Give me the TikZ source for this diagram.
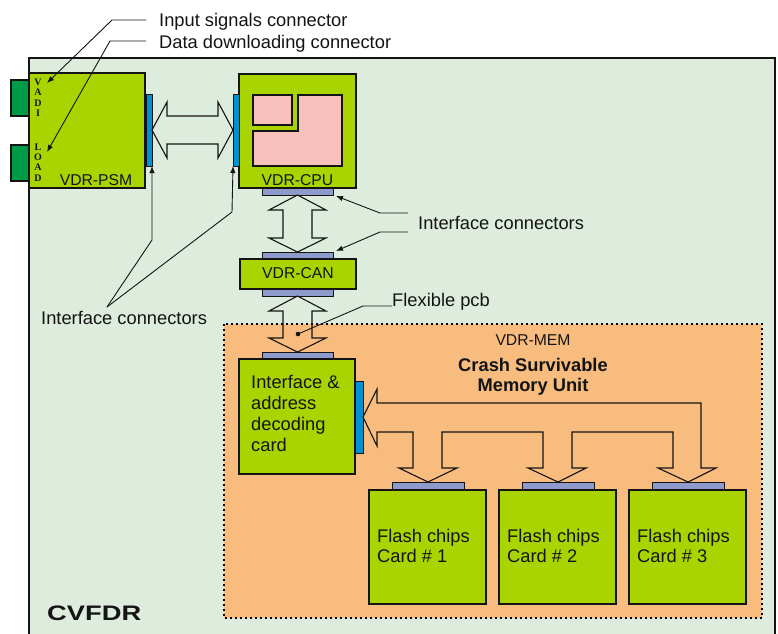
\documentclass[tikz,border=0pt]{standalone}
\usepackage{fontspec}
\setmainfont{Liberation Sans}
\newfontfamily\pinfont{Liberation Serif}
\usetikzlibrary{arrows.meta,calc}

\definecolor{panelgreen}{RGB}{222,236,222}
\definecolor{cardlime}{RGB}{170,212,0}
\definecolor{plugdark}{RGB}{0,155,70}
\definecolor{portblue}{RGB}{0,145,210}
\definecolor{portlav}{RGB}{143,154,204}
\definecolor{chippink}{RGB}{247,192,187}
\definecolor{memorange}{RGB}{247,188,126}
\definecolor{ink}{RGB}{20,20,20}

\tikzset{
  card/.style={draw=ink, line width=2pt, fill=cardlime, anchor=north west,
    inner sep=0pt, outer sep=0pt},
  plug/.style={draw=ink, line width=1.2pt, fill=plugdark, anchor=north west,
    inner sep=0pt, outer sep=0pt},
  sideport/.style={draw=ink, line width=1pt, fill=portblue, anchor=north west,
    inner sep=0pt, outer sep=0pt},
  edgeport/.style={draw=ink, line width=1pt, fill=portlav, anchor=north west,
    inner sep=0pt, outer sep=0pt},
  chiparea/.style={draw=ink, line width=1.2pt, fill=chippink},
  bigarrow/.style={draw=ink, line width=1.1pt, line join=miter},
  leader/.style={draw=ink, line width=0.9pt},
  pointer/.style={leader, -{Latex[length=7pt,width=5.5pt]}},
  lbl/.style={font=\fontsize{18.3}{21}\selectfont, text=ink, inner sep=0pt, anchor=base west},
  boardname/.style={font=\fontsize{15.7}{18}\selectfont, text=ink, inner sep=0pt, anchor=base},
  pinletter/.style={font=\pinfont\bfseries\fontsize{10}{10}\selectfont, text=ink, inner sep=0pt},
}

% double-headed block arrow between two points on a vertical line
\newcommand\vbiarrow[2]{%
  \draw[bigarrow] let \p1=(#1), \p2=(#2) in
    (\p1) -- (\x1+28.5pt,\y1-15pt) -- (\x1+14.5pt,\y1-15pt) -- (\x1+14.5pt,\y2+14pt)
    -- (\x1+28.5pt,\y2+14pt) -- (\p2) -- (\x1-28.5pt,\y2+14pt) -- (\x1-14.5pt,\y2+14pt)
    -- (\x1-14.5pt,\y1-15pt) -- (\x1-28.5pt,\y1-15pt) -- cycle;}
% double-headed block arrow between two points on a horizontal line
\newcommand\hbiarrow[2]{%
  \draw[bigarrow] let \p1=(#1), \p2=(#2) in
    (\p1) -- (\x1+15pt,\y1+28pt) -- (\x1+15pt,\y1+14pt) -- (\x2-15pt,\y1+14pt)
    -- (\x2-15pt,\y1+28pt) -- (\p2) -- (\x2-15pt,\y1-28pt) -- (\x2-15pt,\y1-14pt)
    -- (\x1+15pt,\y1-14pt) -- (\x1+15pt,\y1-28pt) -- cycle;}

\begin{document}
\begin{tikzpicture}[x=1pt, y=-1pt]
  \useasboundingbox (0,0) rectangle (778,633);
  \fill[white] (0,0) rectangle (778,633);
  \clip (0,0) rectangle (778,633);

  % recorder enclosure
  \draw[line width=2.5pt, draw=ink, fill=panelgreen] (29,58) rectangle (775,660);
  \node[font=\bfseries\fontsize{21}{24}\selectfont, text=ink, inner sep=0pt, anchor=base west]
    (cvfdr) at (47,620) {\scalebox{1.3}[1]{CVFDR}};

  % memory unit region
  \draw[line width=1.8pt, dash pattern=on 1.8pt off 3.2pt, fill=memorange] (224,324) rectangle (762,618);

  % external plugs and the power supply board
  \node[plug, minimum width=18pt, minimum height=36pt] (plugA) at (11,80) {};
  \node[plug, minimum width=18pt, minimum height=36pt] (plugB) at (11,145) {};
  \node[card, minimum width=116pt, minimum height=115pt] (psm) at (29,73) {};
  \node[boardname] (psmname) at (96,185) {VDR-PSM};
  \foreach \ch/\yy in {V/82,A/92,D/103,I/113} \node[pinletter] (adi\yy) at (38,\yy) {\ch};
  \foreach \ch/\yy in {L/147,O/157,A/167,D/178} \node[pinletter] (load\yy) at (38,\yy) {\ch};
  \node[sideport, minimum width=6pt, minimum height=72pt] (psmport) at (146,94) {};

  % processor board
  \node[card, minimum width=117pt, minimum height=114pt] (cpu) at (239,74) {};
  \node[sideport, minimum width=6pt, minimum height=72pt] (cpuport) at (233,94) {};
  \draw[chiparea] (253,95) rectangle (292,125);
  \draw[chiparea] (253,131) -- (298,131) -- (298,95) -- (342,95) -- (342,166) -- (253,166) -- cycle;
  \node[boardname] (cpuname) at (297.5,185) {VDR-CPU};
  \node[edgeport, minimum width=71pt, minimum height=7pt] (cpubot) at (262,188) {};

  % CAN board
  \node[edgeport, minimum width=71pt, minimum height=7pt] (cantop) at (262,252) {};
  \node[card, minimum width=116pt, minimum height=30pt] (can) at (240,259) {};
  \node[boardname] (canname) at (298,278) {VDR-CAN};
  \node[edgeport, minimum width=71pt, minimum height=7pt] (canbot) at (262,289) {};

  % interface card of the memory unit
  \node[edgeport, minimum width=71pt, minimum height=7pt] (iftop) at (262,352) {};
  \node[card, minimum width=116pt, minimum height=115pt] (ifc) at (239,359) {};
  \node[sideport, minimum width=8pt, minimum height=72pt] (ifport) at (355,381) {};
  \node[lbl] (ifl1) at (251,388) {Interface \&};
  \node[lbl] (ifl2) at (251,409) {address};
  \node[lbl] (ifl3) at (251,430) {decoding};
  \node[lbl] (ifl4) at (251,451) {card};

  % flash chip cards
  \foreach \i/\xx in {1/369,2/499,3/629} {
    \node[edgeport, minimum width=72pt, minimum height=8pt] (fctop\i) at (\xx+23,482) {};
    \node[card, minimum width=117pt, minimum height=114pt] (fc\i) at (\xx,490) {};
    \node[lbl] (fcA\i) at (\xx+8,542) {Flash chips};
    \node[lbl] (fcB\i) at (\xx+8,562) {Card \# \i};
  }

  % memory unit captions
  \node[boardname] (memname) at (533,345) {VDR-MEM};
  \node[font=\bfseries\fontsize{18.3}{21}\selectfont, text=ink, inner sep=0pt, anchor=base]
    (csm1) at (533,371) {Crash Survivable};
  \node[font=\bfseries\fontsize{18.3}{21}\selectfont, text=ink, inner sep=0pt, anchor=base]
    (csm2) at (533,391.5) {Memory Unit};

  % board-to-board block arrows
  \hbiarrow{psmport.east}{cpuport.west}
  \vbiarrow{cpubot.south}{cantop.north}
  \vbiarrow{canbot.south}{iftop.north}

  % data bus between the interface card and the flash cards
  \draw[bigarrow] (ifport.east) -- (377,389) -- (377,403) -- (701,403) -- (701,468)
    -- (716,468) -- (fctop3.north) -- (658,468) -- (673,468) -- (673,432)
    -- (572,432) -- (572,468) -- (586,468) -- (fctop2.north) -- (528,468)
    -- (543,468) -- (543,432) -- (442,432) -- (442,468) -- (457,468)
    -- (fctop1.north) -- (399,468) -- (413,468) -- (413,432) -- (377,432)
    -- (377,446) -- cycle;

  % callouts
  \node[lbl] (insig) at (159,26) {Input signals connector};
  \node[lbl] (dload) at (159,48) {Data downloading connector};
  \coordinate (insigEnd) at (146,20);
  \coordinate (dloadEnd) at (146,41);
  \coordinate (adiPin) at (47,83);
  \coordinate (loadPin) at (47,152);
  \draw[pointer] (insigEnd) -- (112,20) -- (adiPin);
  \draw[pointer] (dloadEnd) -- (110,41) -- (loadPin);

  \node[lbl] (ifconR) at (418,229) {Interface connectors};
  \coordinate (ifconRa) at (408,213);
  \coordinate (ifconRb) at (408,232);
  \draw[pointer] (ifconRa) -- (380,213) -- ($(cpubot.south east)+(3,1)$);
  \draw[pointer] (ifconRb) -- (380,232) -- ($(cantop.north east)+(3,-1)$);

  \node[lbl] (ifconL) at (41,324) {Interface connectors};
  \coordinate (ifconLtip) at (107,307);
  \draw[pointer] (ifconLtip) -- (152,240) -- (psmport.south east);
  \draw[pointer] (ifconLtip) -- (232,212) -- (cpuport.south west);

  \node[lbl] (flex) at (392,306) {Flexible pcb};
  \coordinate (flexDot) at (298,334);
  \fill[ink] (flexDot) circle (2.3pt);
  \draw[leader] (flexDot) -- (363,306) -- (flex.base west);
\end{tikzpicture}
\end{document}
